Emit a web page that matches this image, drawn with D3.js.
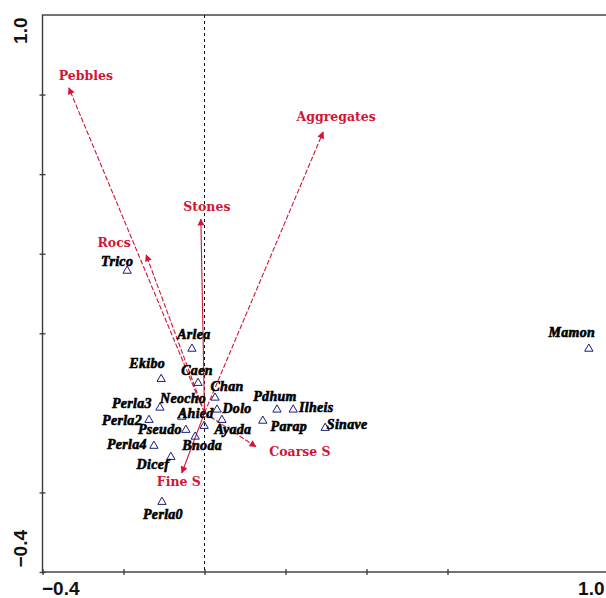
<!DOCTYPE html>
<html>
<head>
<meta charset="utf-8">
<script src="https://cdn.jsdelivr.net/npm/d3@7"></script>
<style>
  html, body { margin: 0; padding: 0; background: #fff; }
  svg { display: block; }
</style>
</head>
<body>
<svg id="chart" width="606" height="598"></svg>
<script>
// Site scores (axis 1, axis 2)
const siteNames = ["Trico", "Arlea", "Ekibo", "Caen", "Chan", "Neocho", "Pdhum", "Ilheis",
  "Perla3", "Ahied", "Dolo", "Perla2", "Pseudo", "Ayada", "Parap", "Sinave",
  "Perla4", "Bnoda", "Dicef", "Perla0", "Mamon"];
const siteX = [-0.191, -0.031, -0.107, -0.016, 0.026, -0.001, 0.179, 0.219,
  -0.110, -0.056, 0.031, -0.137, -0.046, 0.043, 0.144, 0.298,
  -0.125, -0.023, -0.083, -0.105, 0.949];
const siteY = [0.357, 0.161, 0.085, 0.075, 0.038, -0.033, 0.008, 0.008,
  0.013, -0.010, 0.008, -0.018, -0.043, -0.018, -0.020, -0.038,
  -0.083, -0.060, -0.111, -0.224, 0.161];

// Environmental variable vectors (arrow tips)
const envNames = ["Pebbles", "Rocs", "Stones", "Aggregates", "Coarse S", "Fine S"];
const envX = [-0.335, -0.144, -0.009, 0.293, 0.127, -0.056];
const envY = [0.817, 0.397, 0.487, 0.706, -0.085, -0.151];

// Axis ticks and end labels
const xTicks = [-0.4, -0.2, 0, 0.2, 0.4, 0.6];
const yTicks = [-0.4, -0.2, 0.2, 0.4, 0.6, 0.8];
const axisEnds = [-0.4, 1.0];

// Label placement (pixel nudges from each mark)
const siteLabelNudge = {
  Trico: [-10, -9], Arlea: [2, -14], Ekibo: [-14, -16], Caen: [-1, -13], Chan: [12, -11],
  Neocho: [-21, -27], Pdhum: [-2, -13], Ilheis: [23, -2], Perla3: [-28, -4], Ahied: [14, -3],
  Dolo: [20, -1], Perla2: [-27, 0], Pseudo: [-26, 0], Ayada: [11, 9], Parap: [26, 6],
  Sinave: [22, -3], Perla4: [-27, -1], Bnoda: [7, 9], Dicef: [-18, 7], Perla0: [1, 13],
  Mamon: [-17, -16]
};
const envLabelNudge = {
  "Pebbles": [17, -12], "Rocs": [-32, -12], "Stones": [6, -13],
  "Aggregates": [13, -15], "Coarse S": [44, 5], "Fine S": [-3, 9]
};
const solidVectors = new Set(["Stones", "Fine S"]);

const svg = d3.select("#chart");
const plotL = 42.5, plotR = 609.5, plotT = 15, plotB = 572;
const x = d3.scaleLinear().domain([-0.4, 1.0]).range([plotL, plotR]);
const y = d3.scaleLinear().domain([-0.4, 1.0]).range([plotB, plotT]);

const red = "#d01535";
const axisColor = "#3a3a3a";

// Frame
svg.append("rect")
  .attr("x", plotL).attr("y", plotT)
  .attr("width", plotR - plotL).attr("height", plotB - plotT)
  .attr("fill", "none").attr("stroke", axisColor).attr("stroke-width", 1.4);

// Zero line on axis 1
svg.append("line")
  .attr("x1", x(0)).attr("x2", x(0))
  .attr("y1", plotT).attr("y2", plotB)
  .attr("stroke", "#111").attr("stroke-width", 1)
  .attr("stroke-dasharray", "3,3");

// Tick marks crossing the axes
const xAxis = svg.append("g")
  .attr("transform", `translate(0,${plotB})`)
  .call(d3.axisBottom(x).tickValues(xTicks).tickSize(3).tickFormat(""));
xAxis.select(".domain").remove();
xAxis.selectAll(".tick line").attr("y1", -3).attr("y2", 3)
  .attr("stroke", axisColor).attr("stroke-width", 1.3);

const yAxis = svg.append("g")
  .attr("transform", `translate(${plotL},0)`)
  .call(d3.axisLeft(y).tickValues(yTicks).tickSize(3).tickFormat(""));
yAxis.select(".domain").remove();
yAxis.selectAll(".tick line").attr("x1", -3).attr("x2", 3)
  .attr("stroke", axisColor).attr("stroke-width", 1.3);

// End labels of the axes
const endFont = { family: "Liberation Sans, Arial, sans-serif", size: 19 };
const xLab = svg.append("g")
  .attr("transform", `translate(0,${plotB})`)
  .call(d3.axisBottom(x).tickValues(axisEnds).tickSize(0).tickFormat(d3.format(".1f")));
xLab.select(".domain").remove();
xLab.selectAll(".tick text")
  .attr("font-family", endFont.family)
  .attr("font-weight", "bold").attr("font-size", endFont.size).attr("fill", "#111")
  .attr("dy", 0).attr("y", 23)
  .attr("text-anchor", (d, i) => i === 0 ? "start" : "end")
  .attr("dx", (d, i) => i === 0 ? -1 : -(plotR - 604));

const yLab = svg.append("g")
  .attr("transform", `translate(${plotL},0)`)
  .call(d3.axisLeft(y).tickValues(axisEnds).tickSize(0).tickFormat(d3.format(".1f")));
yLab.select(".domain").remove();
yLab.selectAll(".tick text")
  .attr("font-family", endFont.family)
  .attr("font-weight", "bold").attr("font-size", endFont.size).attr("fill", "#111")
  .attr("x", null).attr("dy", null)
  .attr("transform", (d, i) => `translate(-22,${i === 0 ? -5 : 2}) rotate(-90)`)
  .attr("text-anchor", (d, i) => i === 0 ? "start" : "end")
  .attr("dominant-baseline", "central");

// Arrowhead marker
svg.append("defs").append("marker")
  .attr("id", "arrow").attr("viewBox", "0 0 10 10")
  .attr("refX", 9).attr("refY", 5)
  .attr("markerWidth", 9).attr("markerHeight", 7)
  .attr("markerUnits", "userSpaceOnUse")
  .attr("orient", "auto")
  .append("path").attr("d", "M0,0 L10,5 L0,10 Z").attr("fill", red);

// Environmental vectors
const env = envNames.map((n, i) => ({ name: n, x: envX[i], y: envY[i] }));
svg.append("g").selectAll("line").data(env).join("line")
  .attr("x1", x(0)).attr("y1", y(0))
  .attr("x2", d => x(d.x)).attr("y2", d => y(d.y))
  .attr("stroke", red).attr("stroke-width", 1.1)
  .attr("stroke-dasharray", d => solidVectors.has(d.name) ? null : "5,2")
  .attr("marker-end", "url(#arrow)");

// Sites
const sites = siteNames.map((n, i) => ({ name: n, x: siteX[i], y: siteY[i] }));
const tri = d3.symbol().type(d3.symbolTriangle).size(30);
svg.append("g").selectAll("path").data(sites).join("path")
  .attr("d", tri)
  .attr("transform", d => `translate(${x(d.x)},${y(d.y)})`)
  .attr("fill", "none").attr("stroke", "#1c1c7a").attr("stroke-width", 1);

svg.append("g").selectAll("text").data(sites).join("text")
  .attr("x", d => x(d.x) + siteLabelNudge[d.name][0])
  .attr("y", d => y(d.y) + siteLabelNudge[d.name][1])
  .attr("text-anchor", "middle").attr("dominant-baseline", "central")
  .attr("font-family", "Liberation Serif, Times New Roman, serif")
  .attr("font-style", "italic").attr("font-weight", "bold")
  .attr("font-size", 14).attr("letter-spacing", 0.3).attr("fill", "#000")
  .attr("stroke", "#000").attr("stroke-width", 0.6)
  .text(d => d.name);

// Vector labels
svg.append("g").selectAll("text").data(env).join("text")
  .attr("x", d => x(d.x) + envLabelNudge[d.name][0])
  .attr("y", d => y(d.y) + envLabelNudge[d.name][1])
  .attr("text-anchor", "middle").attr("dominant-baseline", "central")
  .attr("font-family", "DejaVu Serif, serif")
  .attr("font-weight", "bold").attr("font-size", 12.5).attr("fill", red)
  .text(d => d.name);
</script>
</body>
</html>
